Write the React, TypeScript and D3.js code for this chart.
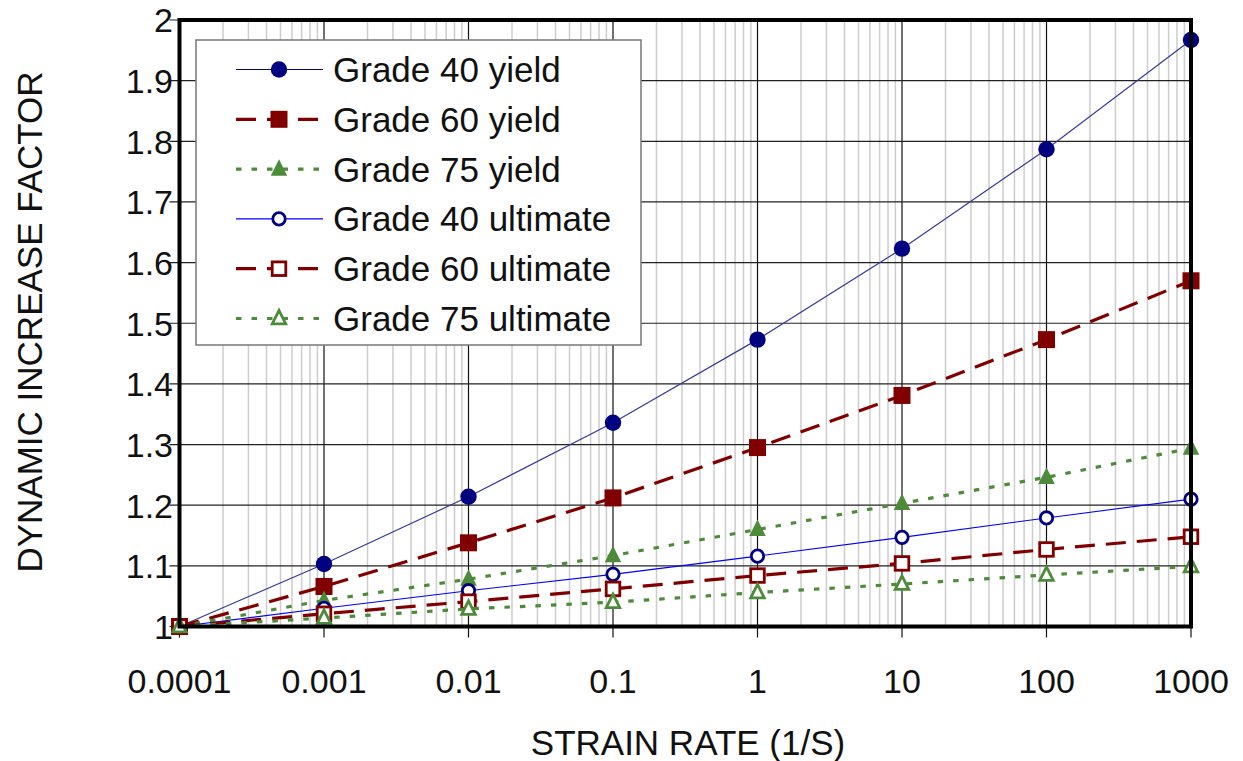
import React from "react";
import * as d3 from "d3";

const strainRates = [0.0001, 0.001, 0.01, 0.1, 1, 10, 100, 1000];
const xTickLabels = ["0.0001", "0.001", "0.01", "0.1", "1", "10", "100", "1000"];
const yTicks = [1, 1.1, 1.2, 1.3, 1.4, 1.5, 1.6, 1.7, 1.8, 1.9, 2];

const grade40Yield = [1.0, 1.103, 1.214, 1.336, 1.473, 1.623, 1.787, 1.967];
const grade60Yield = [1.0, 1.066, 1.138, 1.212, 1.295, 1.381, 1.473, 1.570];
const grade75Yield = [1.0, 1.043, 1.078, 1.117, 1.160, 1.203, 1.246, 1.294];
const grade40Ult = [1.0, 1.030, 1.059, 1.086, 1.116, 1.147, 1.179, 1.210];
const grade60Ult = [1.0, 1.021, 1.041, 1.062, 1.084, 1.104, 1.127, 1.148];
const grade75Ult = [1.0, 1.014, 1.029, 1.040, 1.056, 1.070, 1.085, 1.099];

const seriesNames = [
  "Grade 40 yield",
  "Grade 60 yield",
  "Grade 75 yield",
  "Grade 40 ultimate",
  "Grade 60 ultimate",
  "Grade 75 ultimate",
];

const NAVY = "#000080";
const RED = "#800000";
const GREEN = "#4d8b3a";

type Style = {
  line: string;
  lineWidth: number;
  dash: string | null;
  marker: "circle" | "square" | "triangle";
  fill: string;
  stroke: string;
};

const styles: Style[] = [
  { line: "#3a3a98", lineWidth: 1.2, dash: null, marker: "circle", fill: NAVY, stroke: NAVY },
  { line: RED, lineWidth: 3.2, dash: "20 11", marker: "square", fill: RED, stroke: RED },
  { line: GREEN, lineWidth: 3.2, dash: "5.5 10", marker: "triangle", fill: GREEN, stroke: GREEN },
  { line: "#0000ff", lineWidth: 1.1, dash: null, marker: "circle", fill: "#ffffff", stroke: NAVY },
  { line: RED, lineWidth: 3.2, dash: "20 11", marker: "square", fill: "#ffffff", stroke: RED },
  { line: GREEN, lineWidth: 3.2, dash: "5.5 10", marker: "triangle", fill: "#ffffff", stroke: GREEN },
];

const allSeries = [grade40Yield, grade60Yield, grade75Yield, grade40Ult, grade60Ult, grade75Ult];

function Marker({ s, cx, cy }: { s: Style; cx: number; cy: number }) {
  const open = s.fill === "#ffffff";
  if (s.marker === "circle") {
    return open ? (
      <circle cx={cx} cy={cy} r={6.2} fill="#fff" stroke={s.stroke} strokeWidth={2.8} />
    ) : (
      <circle cx={cx} cy={cy} r={8.2} fill={s.fill} />
    );
  }
  if (s.marker === "square") {
    return open ? (
      <rect x={cx - 6.8} y={cy - 6.8} width={13.6} height={13.6} fill="#fff" stroke={s.stroke} strokeWidth={2.8} />
    ) : (
      <rect x={cx - 8.5} y={cy - 8.5} width={17} height={17} fill={s.fill} />
    );
  }
  const h = open ? 13.5 : 16.5;
  const w = open ? 13.5 : 16.5;
  const pts = `${cx},${cy - h * 0.6} ${cx + w / 2},${cy + h * 0.4} ${cx - w / 2},${cy + h * 0.4}`;
  return open ? (
    <polygon points={pts} fill="#fff" stroke={s.stroke} strokeWidth={2.8} strokeLinejoin="miter" />
  ) : (
    <polygon points={pts} fill={s.fill} />
  );
}

export default function App() {
  const W = 1243;
  const H = 761;
  const x = d3.scaleLog().domain([1e-4, 1e3]).range([179.5, 1191]);
  const y = d3.scaleLinear().domain([1, 2]).range([626.5, 20]);
  const [x0, x1] = x.range();
  const [yb, yt] = y.range();

  const minorTicks: number[] = [];
  for (let e = -4; e < 3; e++) {
    for (let m = 2; m <= 9; m++) minorTicks.push(m * Math.pow(10, e));
  }

  const line = d3
    .line<number>()
    .x((_, i) => x(strainRates[i]))
    .y((d) => y(d));

  const font = "'Liberation Sans', Arial, sans-serif";

  const legX = 196;
  const legY = 40;
  const legW = 445;
  const legH = 305;
  const rowY0 = 69.5;
  const rowStep = 49.8;

  return (
    <svg
      width={W}
      height={H}
      style={{ position: "absolute", left: 0, top: 0, background: "#fff" }}
      fontFamily={font}
    >
      <rect x={0} y={0} width={W} height={H} fill="#fff" />
      {minorTicks.map((t, i) => (
        <line key={"mv" + i} x1={x(t)} x2={x(t)} y1={yt} y2={yb} stroke="#cdcdcd" strokeWidth={1.5} />
      ))}
      {strainRates.map((t, i) => (
        <line key={"Mv" + i} x1={x(t)} x2={x(t)} y1={yt} y2={yb + 11} stroke="#111" strokeWidth={1.2} />
      ))}
      {yTicks.map((t, i) => (
        <line key={"h" + i} x1={x0 - 10} x2={x1} y1={y(t)} y2={y(t)} stroke="#222" strokeWidth={1.2} />
      ))}
      {allSeries.map((vals, si) => {
        const s = styles[si];
        return (
          <g key={"s" + si}>
            <path
              d={line(vals) || ""}
              fill="none"
              stroke={s.line}
              strokeWidth={s.lineWidth}
              strokeDasharray={s.dash || undefined}
            />
            {vals.map((v, i) => (
              <Marker key={i} s={s} cx={x(strainRates[i])} cy={y(v)} />
            ))}
          </g>
        );
      })}
      <rect x={x0} y={yt} width={x1 - x0} height={yb - yt} fill="none" stroke="#000" strokeWidth={4} />
      <rect x={legX} y={legY} width={legW} height={legH} fill="#fff" stroke="#777" strokeWidth={1.5} />
      {seriesNames.map((name, i) => {
        const s = styles[i];
        const cy = rowY0 + i * rowStep;
        return (
          <g key={"l" + i}>
            <line
              x1={236}
              x2={323}
              y1={cy}
              y2={cy}
              stroke={s.line === "#3a3a98" ? NAVY : s.line}
              strokeWidth={s.lineWidth}
              strokeDasharray={s.dash || undefined}
            />
            <Marker s={s} cx={279} cy={cy} />
            <text x={333} y={cy + 12.5} fontSize={35} fill="#111">
              {name}
            </text>
          </g>
        );
      })}
      {strainRates.map((t, i) => (
        <text key={"xl" + i} x={x(t)} y={693} fontSize={34} textAnchor="middle" fill="#111">
          {xTickLabels[i]}
        </text>
      ))}
      {yTicks.map((t, i) => (
        <text key={"yl" + i} x={173} y={y(t) + 12.3} fontSize={34} textAnchor="end" fill="#111">
          {d3.format("")(+t.toFixed(1))}
        </text>
      ))}
      <text x={688} y={755} fontSize={35} textAnchor="middle" fill="#111">
        STRAIN RATE (1/S)
      </text>
      <text transform={`translate(42,322) rotate(-90)`} fontSize={35} textAnchor="middle" fill="#111">
        DYNAMIC INCREASE FACTOR
      </text>
    </svg>
  );
}
